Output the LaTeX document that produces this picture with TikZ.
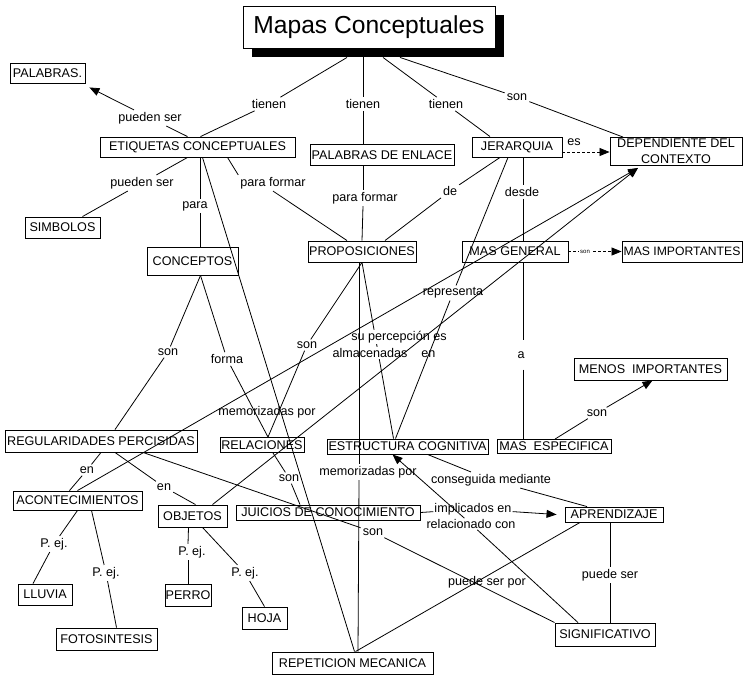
\documentclass[tikz,border=0pt]{standalone}
\usepackage{fontspec}
\setmainfont{Liberation Sans}
\usetikzlibrary{arrows.meta,shadows}
\begin{document}
\begin{tikzpicture}[x=1pt,y=-1pt,
  box/.style={draw,line width=0.9pt,inner sep=0pt,font=\fontsize{12.6}{15}\selectfont},
  lbl/.style={inner sep=2pt,fill=white,font=\fontsize{12.6}{15}\selectfont},
  ln/.style={line width=0.8pt},
  arrw/.style={-{Triangle[length=10pt,width=8pt]}},
]
\useasboundingbox (0,0) rectangle (743,675);
\fill[white] (0,0) rectangle (743,675);
% concept nodes
\node[box,fill=white,minimum width=252pt,minimum height=42pt,font=\fontsize{24.6}{28}\selectfont,
  general shadow={fill=black,shadow xshift=9pt,shadow yshift=-9pt}] (title) at (369,27) {Mapas Conceptuales};
\node[box,minimum width=75pt,minimum height=20pt] (palabras) at (47.5,73) {PALABRAS.};
\node[box,minimum width=195pt,minimum height=20pt] (etiq) at (197.5,147) {ETIQUETAS CONCEPTUALES};
\node[box,minimum width=144pt,minimum height=21pt] (enlace) at (382,155) {PALABRAS DE ENLACE};
\node[box,minimum width=90pt,minimum height=20pt] (jer) at (517,147) {JERARQUIA};
\node[box,minimum width=132pt,minimum height=28pt,align=center,font=\fontsize{12.6}{16}\selectfont] (dep) at (676,151.5) {DEPENDIENTE DEL\\CONTEXTO};
\node[box,minimum width=75pt,minimum height=21pt] (simb) at (62.5,227.5) {SIMBOLOS};
\node[box,minimum width=91pt,minimum height=28pt] (conc) at (192.5,261) {CONCEPTOS};
\node[box,minimum width=108pt,minimum height=21pt] (prop) at (362,251.5) {PROPOSICIONES};
\node[box,minimum width=106pt,minimum height=21pt] (mg) at (515,251.5) {MAS GENERAL};
\node[box,minimum width=120pt,minimum height=21pt,font=\fontsize{12.2}{14}\selectfont] (mi) at (682,251.5) {MAS IMPORTANTES};
\node[box,minimum width=153pt,minimum height=22pt] (menos) at (650.5,369) {MENOS\ \ IMPORTANTES};
\node[box,minimum width=192pt,minimum height=22pt] (reg) at (101,441) {REGULARIDADES PERCISIDAS};
\node[box,minimum width=84pt,minimum height=15pt] (rel) at (262,445) {RELACIONES};
\node[box,minimum width=161pt,minimum height=15pt] (estr) at (407.5,446.5) {ESTRUCTURA COGNITIVA};
\node[box,minimum width=114pt,minimum height=14pt] (mesp) at (554,446.5) {MAS\ \ ESPECIFICA};
\node[box,minimum width=129pt,minimum height=19pt] (acon) at (77.5,500.5) {ACONTECIMIENTOS};
\node[box,minimum width=69pt,minimum height=22pt] (obj) at (192.5,516) {OBJETOS};
\node[box,minimum width=184pt,minimum height=15pt] (jui) at (328,512.5) {JUICIOS DE CONOCIMIENTO};
\node[box,minimum width=98pt,minimum height=15pt] (apr) at (614,514.5) {APRENDIZAJE};
\node[box,minimum width=54pt,minimum height=21pt] (llu) at (45,594.5) {LLUVIA};
\node[box,minimum width=46pt,minimum height=22pt] (perro) at (188,595) {PERRO};
\node[box,minimum width=45pt,minimum height=22pt] (hoja) at (264.5,618) {HOJA};
\node[box,minimum width=101pt,minimum height=22pt] (foto) at (106.5,639) {FOTOSINTESIS};
\node[box,minimum width=100pt,minimum height=23pt] (sign) at (605,634.5) {SIGNIFICATIVO};
\node[box,minimum width=161pt,minimum height=22pt] (rep) at (352.5,663) {REPETICION MECANICA};
% lines hidden under labels
\draw[ln] (prop.south) -- ([xshift=-14pt]estr.north);
\draw[ln,dash pattern=on 3pt off 2pt,arrw] (mg.east) -- (mi.west);
\draw[ln,dash pattern=on 3pt off 2pt,arrw] ([yshift=-5pt]jer.east) -- ([yshift=-5pt]jer.east -| dep.west);
% link labels
\node[lbl] (t1) at (269,104) {tienen};
\node[lbl] (t2) at (363,104) {tienen};
\node[lbl] (t3) at (446,104) {tienen};
\node[lbl] (sont) at (517,97) {son};
\node[lbl] (ps1) at (150,118) {pueden ser};
\node[lbl] (ps2) at (142,183) {pueden ser};
\node[lbl] (para) at (195,206) {para};
\node[lbl] (pf1) at (273,183) {para formar};
\node[lbl] (pf2) at (365,198) {para formar};
\node[lbl] (es) at (574,142) {es};
\node[lbl] (de) at (450,191) {de};
\node[lbl] (desde) at (522,192) {desde};
\node[lbl] (son2) at (168,352) {son};
\node[lbl] (forma) at (227,359) {forma};
\node[lbl] (son3) at (307,345) {son};
\node[lbl,inner sep=1pt] (supe) at (399,337) {su percepción es};
\node[lbl,inner sep=1pt] (alm) at (384,353) {almacenadas\hspace{14pt}en};
\node[lbl] (repr) at (453,293) {representa};
\node[lbl] (a) at (521,355) {a};
\node[lbl,inner sep=1pt,font=\fontsize{6}{7}\selectfont] (sonmi) at (585,252) {son};
\node[lbl] (memo1) at (267,412) {memorizadas por};
\node[lbl] (memo2) at (368,472) {memorizadas por};
\node[lbl] (en1) at (87,470) {en};
\node[lbl] (en2) at (164,487) {en};
\node[lbl] (son4) at (289,478) {son};
\node[lbl] (son5) at (373,532) {son};
\node[lbl] (sonme) at (597,413) {son};
\node[lbl] (cons) at (491,480) {conseguida mediante};
\node[lbl,inner sep=1pt] (impl) at (473,509) {implicados en};
\node[lbl,inner sep=1pt] (relc) at (471,524) {relacionado con};
\node[lbl] (pe1) at (54,544) {P. ej.};
\node[lbl] (pe2) at (106,573) {P. ej.};
\node[lbl] (pe3) at (192,552) {P. ej.};
\node[lbl] (pe4) at (245,573) {P. ej.};
\node[lbl,fill=none] (pspor) at (487,582) {puede ser por};
\node[lbl] (pser) at (610,575) {puede ser};
% connectors through labels
\draw[ln] ([xshift=-22pt,yshift=-9pt]title.south) -- (t1) -- ([xshift=3pt]etiq.north);
\draw[ln] ([xshift=-6pt,yshift=-9pt]title.south) -- (t2) -- ([xshift=-19pt]enlace.north);
\draw[ln] ([xshift=14pt,yshift=-9pt]title.south) -- (t3) -- ([xshift=-27pt]jer.north);
\draw[ln] ([xshift=31pt,yshift=-9pt]title.south) -- (sont) -- ([xshift=-53pt]dep.north);
\draw[ln,arrw] ([xshift=-10pt]etiq.north) -- (ps1) -- ([xshift=4pt,yshift=-4pt]palabras.south east);
\draw[ln] ([xshift=-10pt]etiq.south) -- (ps2) -- ([xshift=20pt]simb.north);
\draw[ln] ([xshift=3pt]etiq.south) -- ([xshift=5.5pt]para.north);
\draw[ln] ([xshift=5.5pt]para.south) -- ([xshift=8pt]conc.north);
\draw[ln] ([xshift=30pt]etiq.south) -- (pf1.north west);
\draw[ln] (pf1.south) -- ([xshift=-15pt]prop.north);
\draw[ln] ([xshift=-19pt]enlace.south) -- ([xshift=-2pt]pf2.north);
\draw[ln] ([xshift=-2pt]pf2.south) -- (prop.north);
\draw[ln] ([xshift=-17pt]jer.south) -- (de) -- ([xshift=23pt]prop.north);
\draw[ln] ([xshift=6pt]jer.south) -- ([xshift=1pt]desde.north);
\draw[ln] ([xshift=1pt]desde.south) -- ([xshift=8pt]mg.north);
\draw[ln] ([xshift=8pt]mg.south) -- ([xshift=2pt,yshift=9pt]a.north);
\draw[ln] ([xshift=2pt,yshift=-9pt]a.south) -- ([xshift=-31pt]mesp.north);
\draw[ln] ([xshift=-9pt]jer.south) -- (repr) -- ([xshift=-12pt]estr.north);
\draw[ln] ([xshift=8pt]conc.south) -- (son2) -- ([xshift=14pt]reg.north);
\draw[ln] ([xshift=8pt]conc.south) -- (forma) -- ([xshift=6pt]rel.north);
\draw[ln] (prop.south) -- (son3) -- ([xshift=6pt]rel.north);
\draw[ln] ([xshift=-3pt]prop.south) -- ([xshift=-9pt]memo2.north);
\draw[ln] ([xshift=-9pt]memo2.south) -- ([xshift=5.5pt]rep.north);
\draw[ln] (reg.south) -- (en1) -- ([xshift=-8pt]acon.north);
\draw[ln] ([xshift=14pt]reg.south) -- (en2) -- ([xshift=3pt]obj.north);
\draw[ln] ([xshift=11pt]rel.south) -- (son4) -- ([xshift=-28pt]jui.north);
\draw[ln] ([xshift=42pt]reg.south) -- (son5) -- (sign.north west);
\draw[ln] (acon.south) -- (pe1) -- ([xshift=-12pt]llu.north);
\draw[ln] ([xshift=14pt]acon.south) -- (pe2) -- ([xshift=10pt]foto.north);
\draw[ln] ([xshift=-4pt]obj.south) -- ([xshift=-4pt]pe3.north);
\draw[ln] ([xshift=-4pt]pe3.south) -- (perro.north);
\draw[ln] ([xshift=10pt]obj.south) -- (pe4) -- (hoja.north);
\draw[ln,arrw] (jui.east) -- (impl) -- ([xshift=-8pt]apr.west);
\draw[ln,arrw] ([xshift=-27pt]sign.north) -- (relc) -- ([xshift=-15pt]estr.south);
\draw[ln] ([xshift=20pt]estr.south) -- (cons) -- ([xshift=-27pt]apr.north);
\draw[ln] ([xshift=-4pt]apr.south) -- (pser) -- ([xshift=5pt]sign.north);
\draw[ln,arrw] ([xshift=1pt]mesp.north) -- (sonme) -- ([xshift=2pt]menos.south);
% connectors crossing over labels
\draw[ln] ([xshift=5pt]etiq.south) -- ([xshift=2pt]rep.north);
\draw[ln,arrw] (acon.north) -- ([xshift=-38pt,yshift=-2pt]dep.south);
\draw[ln,arrw] ([xshift=20pt]obj.north) -- ([xshift=-38pt,yshift=-2pt]dep.south);
\draw[ln] ([xshift=-34pt]apr.south) -- ([xshift=3pt]rep.north);
\end{tikzpicture}
\end{document}
